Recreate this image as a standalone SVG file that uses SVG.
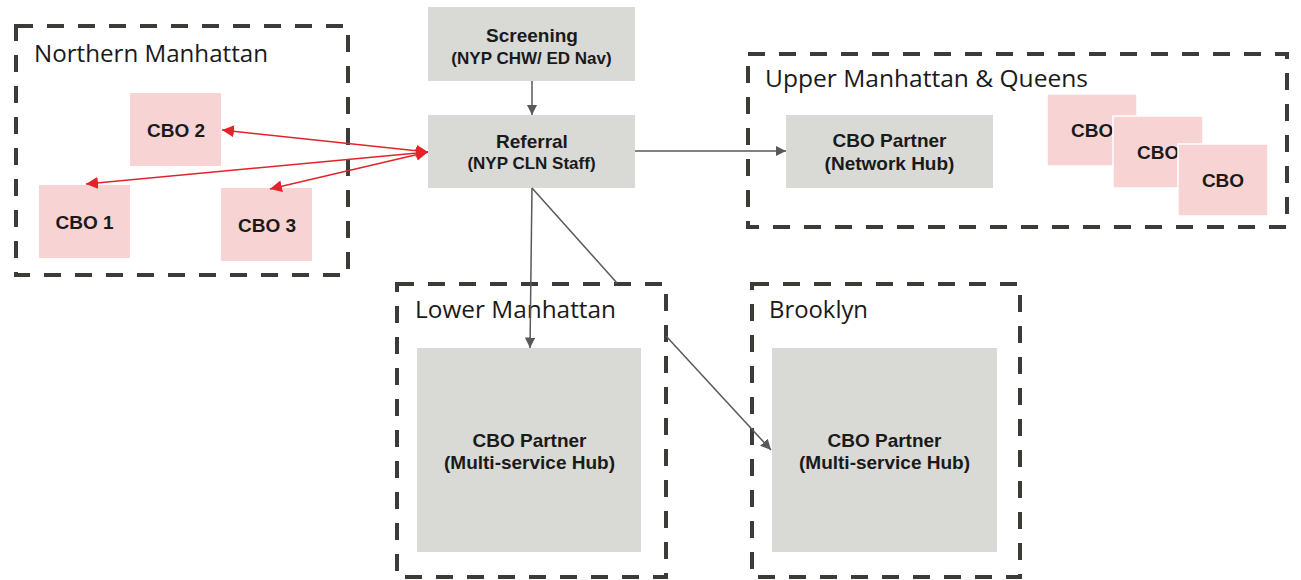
<svg xmlns="http://www.w3.org/2000/svg" width="1301" height="580" viewBox="0 0 1301 580">
<style>
.region{fill:none;stroke:#3b3b38;stroke-width:4;stroke-dasharray:17 14}
.gray{fill:#d9d9d5}
.pink{fill:#f8d3d4}
.stack{fill:#f8d3d4;stroke:#ffffff;stroke-width:1.5}
.title{font-family:"Open Sans","Liberation Sans",sans-serif;font-size:24px;fill:#1a1a1a}
.lbl{font-family:"Liberation Sans",Arial,sans-serif;font-weight:bold;font-size:19px;fill:#1a1a1a;text-anchor:middle}
.sub{font-family:"Liberation Sans",Arial,sans-serif;font-weight:bold;font-size:17px;fill:#1a1a1a;text-anchor:middle}
.gline{fill:none;stroke:#595959;stroke-width:1.5}
.rline{fill:none;stroke:#e3232a;stroke-width:1.5}
</style>
<defs>
<marker id="ga" viewBox="0 0 10 10" refX="10" refY="5" markerWidth="7" markerHeight="7" markerUnits="strokeWidth" orient="auto"><path d="M0,0 L10,5 L0,10 z" fill="#595959"/></marker>
<marker id="ra" viewBox="0 0 10 10" refX="10" refY="5" markerWidth="8" markerHeight="8" markerUnits="strokeWidth" orient="auto-start-reverse"><path d="M0,0 L10,5 L0,10 z" fill="#e3232a"/></marker>
</defs>

<g id="northern-manhattan">
<rect class="region" x="16" y="26" width="332" height="249"/>
<text class="title" x="34" y="62" textLength="234" lengthAdjust="spacingAndGlyphs">Northern Manhattan</text>
</g>
<g id="cbo2"><rect class="pink" x="130" y="93" width="91" height="73"/><text class="lbl" x="176" y="137">CBO 2</text></g>
<g id="cbo1"><rect class="pink" x="39" y="185" width="91" height="73"/><text class="lbl" x="84.5" y="229">CBO 1</text></g>
<g id="cbo3"><rect class="pink" x="221" y="188" width="91" height="73"/><text class="lbl" x="267" y="232">CBO 3</text></g>

<g id="screening"><rect class="gray" x="428" y="7" width="207" height="74"/><text class="lbl" x="532" y="42">Screening</text><text class="sub" x="531.5" y="64">(NYP CHW/ ED Nav)</text></g>
<g id="referral"><rect class="gray" x="428" y="115" width="207" height="73"/><text class="lbl" x="532" y="148">Referral</text><text class="sub" x="531.5" y="169">(NYP CLN Staff)</text></g>

<g id="upper-manhattan-queens">
<rect class="region" x="748" y="54" width="539" height="173"/>
<text class="title" x="765" y="87" textLength="323" lengthAdjust="spacingAndGlyphs">Upper Manhattan &amp; Queens</text>
</g>
<g id="network-hub"><rect class="gray" x="786" y="115" width="207" height="73"/><text class="lbl" x="889.5" y="147">CBO Partner</text><text class="lbl" x="889.5" y="170">(Network Hub)</text></g>
<g id="cbo-a"><rect class="stack" x="1047" y="94" width="90" height="72"/><text class="lbl" x="1071" y="137" style="text-anchor:start" font-size="18">CBO</text></g>
<g id="cbo-b"><rect class="stack" x="1113" y="116" width="90" height="72"/><text class="lbl" x="1137" y="159" style="text-anchor:start" font-size="18">CBO</text></g>
<g id="cbo-c"><rect class="stack" x="1178" y="144" width="90" height="72"/><text class="lbl" x="1223" y="187" font-size="18">CBO</text></g>

<g id="lower-manhattan">
<rect class="region" x="397" y="284" width="269" height="293"/>
<text class="title" x="415" y="318" textLength="201" lengthAdjust="spacingAndGlyphs">Lower Manhattan</text>
</g>
<g id="lower-hub"><rect class="gray" x="417" y="348" width="224" height="204"/><text class="lbl" x="529.5" y="447">CBO Partner</text><text class="lbl" x="529.5" y="469">(Multi-service Hub)</text></g>

<g id="brooklyn">
<rect class="region" x="752" y="284" width="268" height="293"/>
<text class="title" x="769" y="318" textLength="99" lengthAdjust="spacingAndGlyphs">Brooklyn</text>
</g>
<g id="brooklyn-hub"><rect class="gray" x="772" y="348" width="225" height="204"/><text class="lbl" x="884.5" y="447">CBO Partner</text><text class="lbl" x="884.5" y="469">(Multi-service Hub)</text></g>

<g id="connectors">
<line class="gline" x1="532" y1="81" x2="532" y2="115" marker-end="url(#ga)"/>
<line class="gline" x1="635" y1="151" x2="786" y2="151" marker-end="url(#ga)"/>
<line class="gline" x1="532" y1="188" x2="530" y2="348" marker-end="url(#ga)"/>
<line class="gline" x1="532" y1="188" x2="617" y2="283"/>
<line class="gline" x1="666" y1="336" x2="771" y2="450" marker-end="url(#ga)"/>
<line class="rline" x1="428" y1="152" x2="222" y2="130" marker-start="url(#ra)" marker-end="url(#ra)"/>
<line class="rline" x1="428" y1="152" x2="86" y2="184" marker-start="url(#ra)" marker-end="url(#ra)"/>
<line class="rline" x1="428" y1="152" x2="270" y2="189" marker-start="url(#ra)" marker-end="url(#ra)"/>
</g>
</svg>
